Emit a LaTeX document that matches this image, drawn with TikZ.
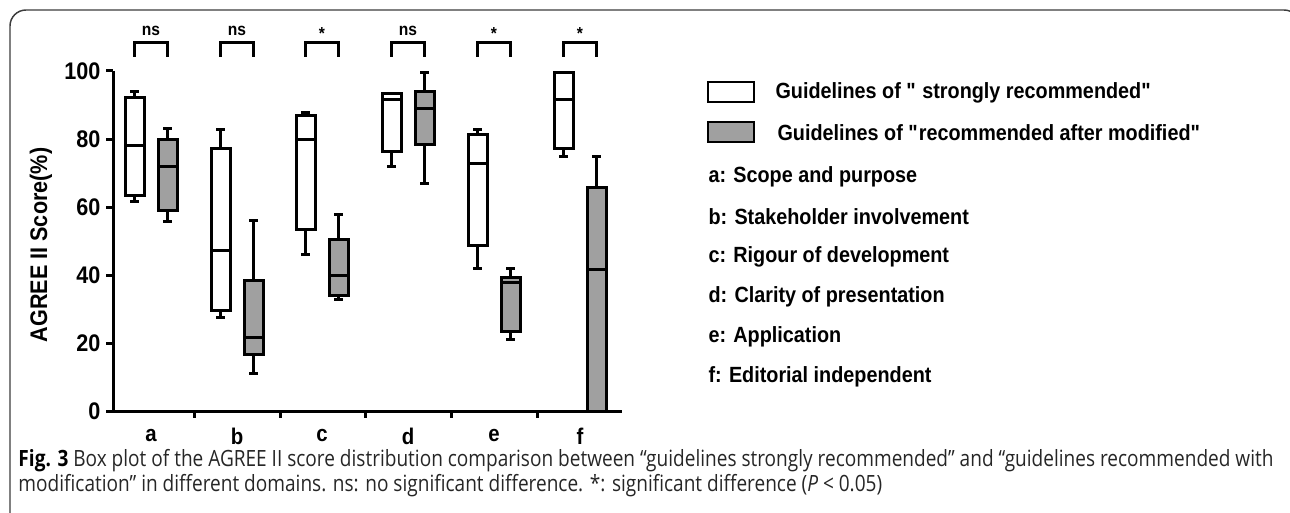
\documentclass[tikz,border=0pt]{standalone}
\usepackage{fontspec}
\setmainfont{Liberation Sans}
\newfontfamily\plotfont[FakeStretch=0.9]{Liberation Sans}
\newfontfamily\capfont[FakeStretch=0.85]{Open Sans}
\usetikzlibrary{positioning}

\definecolor{boxgrey}{RGB}{160,160,160}
\definecolor{framegrey}{RGB}{60,60,60}

\tikzset{every picture/.style={line width=0.75pt}}
\tikzset{
  plotline/.style={line width=2.25pt},
  whitebox/.style={plotline,fill=white},
  greybox/.style={plotline,fill=boxgrey},
  ticklab/.style={font=\plotfont\fontsize{18}{20}\selectfont\bfseries,anchor=east,inner sep=0pt},
  catlab/.style={font=\plotfont\fontsize{17}{19}\selectfont\bfseries,inner sep=0pt},
  siglab/.style={font=\plotfont\fontsize{13}{15}\selectfont\bfseries,inner sep=0pt},
  legtext/.style={font=\plotfont\fontsize{16.5}{18}\selectfont\bfseries,anchor=west,inner sep=0pt},
  captext/.style={anchor=base west,inner sep=0pt,font=\capfont\fontsize{16.8}{20}\selectfont,text=black!85}
}

\begin{document}
\begin{tikzpicture}[x=0.75pt,y=0.75pt,yscale=-1,xscale=1]
\path[use as bounding box] (0,0) rectangle (1290,513);
\clip (0,0) rectangle (1290,513);

%Rounded frame
\draw [color=framegrey,line width=1.1pt,rounded corners=12] (10,530) -- (10,10) -- (1300,10) -- (1300,530) ;

%Axes
\draw [plotline] (113,71) -- (113,411.5) -- (622,411.5) ;
%Y ticks
\draw [plotline] (106,71) -- (113,71) ;
\draw [plotline] (106,139.1) -- (113,139.1) ;
\draw [plotline] (106,207.2) -- (113,207.2) ;
\draw [plotline] (106,275.3) -- (113,275.3) ;
\draw [plotline] (106,343.4) -- (113,343.4) ;
\draw [plotline] (106,411.5) -- (113,411.5) ;
%X ticks
\draw [plotline] (194,411.5) -- (194,418) ;
\draw [plotline] (280,411.5) -- (280,418) ;
\draw [plotline] (365,411.5) -- (365,418) ;
\draw [plotline] (451,411.5) -- (451,418) ;
\draw [plotline] (537,411.5) -- (537,418) ;

% Text Node
\draw (101,71) node (y100) [ticklab] {100};
\draw (101,139.1) node (y80) [ticklab] {80};
\draw (101,207.2) node (y60) [ticklab] {60};
\draw (101,275.3) node (y40) [ticklab] {40};
\draw (101,343.4) node (y20) [ticklab] {20};
\draw (101,411.5) node (y0) [ticklab] {0};
% Text Node
\draw (41,245) node (ytitle) [rotate=90,font=\plotfont\fontsize{18}{20}\selectfont\bfseries,inner sep=0pt] {AGREE II Score(\%)};

% Text Node
\draw (151,436) node (xa) [catlab] {a};
\draw (237,436) node (xb) [catlab] {b};
\draw (322,436) node (xc) [catlab] {c};
\draw (408,436) node (xd) [catlab] {d};
\draw (494,436) node (xe) [catlab] {e};
\draw (580,436) node (xf) [catlab] {f};

%Box a white
\draw [plotline] (134.5,92) -- (134.5,201.7) ;
\draw [plotline] (130,92) -- (139,92) ;
\draw [plotline] (130,201.7) -- (139,201.7) ;
\draw [whitebox] (125,97.7) rectangle (144,196) ;
\draw [plotline] (125,146) -- (144,146) ;
%Box a grey
\draw [plotline] (167.5,129) -- (167.5,221.7) ;
\draw [plotline] (163,129) -- (172,129) ;
\draw [plotline] (163,221.7) -- (172,221.7) ;
\draw [greybox] (158,139.3) rectangle (177,210.7) ;
\draw [plotline] (158,166.7) -- (177,166.7) ;

%Box b white
\draw [plotline] (220.5,129.3) -- (220.5,317.3) ;
\draw [plotline] (216,129.3) -- (225,129.3) ;
\draw [plotline] (216,317.3) -- (225,317.3) ;
\draw [whitebox] (211,149) rectangle (230,310.7) ;
\draw [plotline] (211,250.7) -- (230,250.7) ;
%Box b grey
\draw [plotline] (253.5,221) -- (253.5,374) ;
\draw [plotline] (249,221) -- (258,221) ;
\draw [plotline] (249,374) -- (258,374) ;
\draw [greybox] (244,280.3) rectangle (263,355) ;
\draw [plotline] (244,337.3) -- (263,337.3) ;

%Box c white
\draw [plotline] (305.5,112.7) -- (305.5,255) ;
\draw [plotline] (301,112.7) -- (310,112.7) ;
\draw [plotline] (301,255) -- (310,255) ;
\draw [whitebox] (296,116) rectangle (315,229.3) ;
\draw [plotline] (296,140) -- (315,140) ;
%Box c grey
\draw [plotline] (338.5,214.3) -- (338.5,300) ;
\draw [plotline] (334,214.3) -- (343,214.3) ;
\draw [plotline] (334,300) -- (343,300) ;
\draw [greybox] (329,239.3) rectangle (348,295.7) ;
\draw [plotline] (329,276) -- (348,276) ;

%Box d white
\draw [plotline] (391.5,151.7) -- (391.5,166.7) ;
\draw [plotline] (387,166.7) -- (396,166.7) ;
\draw [whitebox] (382,93.3) rectangle (401,151.7) ;
\draw [plotline] (382,99.3) -- (401,99.3) ;
%Box d grey
\draw [plotline] (424.5,72.7) -- (424.5,184) ;
\draw [plotline] (420,72.7) -- (429,72.7) ;
\draw [plotline] (420,184) -- (429,184) ;
\draw [greybox] (415,92) rectangle (434,145) ;
\draw [plotline] (415,108.7) -- (434,108.7) ;

%Box e white
\draw [plotline] (477.5,129.3) -- (477.5,269) ;
\draw [plotline] (473,129.3) -- (482,129.3) ;
\draw [plotline] (473,269) -- (482,269) ;
\draw [whitebox] (468,134.3) rectangle (487,245.7) ;
\draw [plotline] (468,163.3) -- (487,163.3) ;
%Box e grey
\draw [plotline] (510.5,269) -- (510.5,340) ;
\draw [plotline] (506,269) -- (515,269) ;
\draw [plotline] (506,340) -- (515,340) ;
\draw [greybox] (501,277.3) rectangle (520,331.7) ;
\draw [plotline] (501,282.3) -- (520,282.3) ;

%Box f white
\draw [plotline] (563.5,148.3) -- (563.5,156.7) ;
\draw [plotline] (559,156.7) -- (568,156.7) ;
\draw [whitebox] (554,72.7) rectangle (573,148.3) ;
\draw [plotline] (554,100) -- (573,100) ;
%Box f grey
\draw [plotline] (596.5,156.7) -- (596.5,187.3) ;
\draw [plotline] (592,156.7) -- (601,156.7) ;
\draw [greybox] (587,187.3) rectangle (606,411.5) ;
\draw [plotline] (587,269.3) -- (606,269.3) ;

%Significance brackets
\draw [plotline] (134.5,57) -- (134.5,42.5) -- (167.5,42.5) -- (167.5,57) ;
\draw [plotline] (220.5,57) -- (220.5,42.5) -- (253.5,42.5) -- (253.5,57) ;
\draw [plotline] (305.5,57) -- (305.5,42.5) -- (338.5,42.5) -- (338.5,57) ;
\draw [plotline] (391.5,57) -- (391.5,42.5) -- (424.5,42.5) -- (424.5,57) ;
\draw [plotline] (477.5,57) -- (477.5,42.5) -- (510.5,42.5) -- (510.5,57) ;
\draw [plotline] (563.5,57) -- (563.5,42.5) -- (596.5,42.5) -- (596.5,57) ;
% Text Node
\draw (151,31) node (siga) [siglab] {ns};
\draw (237,31) node (sigb) [siglab] {ns};
\draw (322,34) node (sigc) [siglab] {*};
\draw (408,31) node (sigd) [siglab] {ns};
\draw (494,34) node (sige) [siglab] {*};
\draw (580,34) node (sigf) [siglab] {*};

%Legend swatches
\draw [line width=1.6pt,fill=white] (708,82) rectangle (754,102) ;
\draw [line width=1.6pt,fill=boxgrey] (708,122) rectangle (754,142) ;
% Text Node
\draw (775,93) node (leg1) [legtext] {Guidelines of \textquotedbl{} strongly recommended\textquotedbl};
\draw (777,133) node (leg2) [legtext] {Guidelines of \textquotedbl{}recommended after modified\textquotedbl};
\draw (708,177) node (doma) [legtext] {a: Scope and purpose};
\draw (708,217) node (domb) [legtext] {b: Stakeholder involvement};
\draw (708,257) node (domc) [legtext] {c: Rigour of development};
\draw (708,297) node (domd) [legtext] {d: Clarity of presentation};
\draw (708,337) node (dome) [legtext] {e: Application};
\draw (708,377) node (domf) [legtext] {f: Editorial independent};

% Caption
\draw (18,467) node (cap1) [captext] {\textbf{\color{black}Fig. 3} Box plot of the AGREE II score distribution comparison between “guidelines strongly recommended” and “guidelines recommended with};
\draw (18,492) node (cap2) [captext] {modification” in different domains. ns: no significant difference. *: significant difference (\textit{P} < 0.05)};

\end{tikzpicture}
\end{document}
